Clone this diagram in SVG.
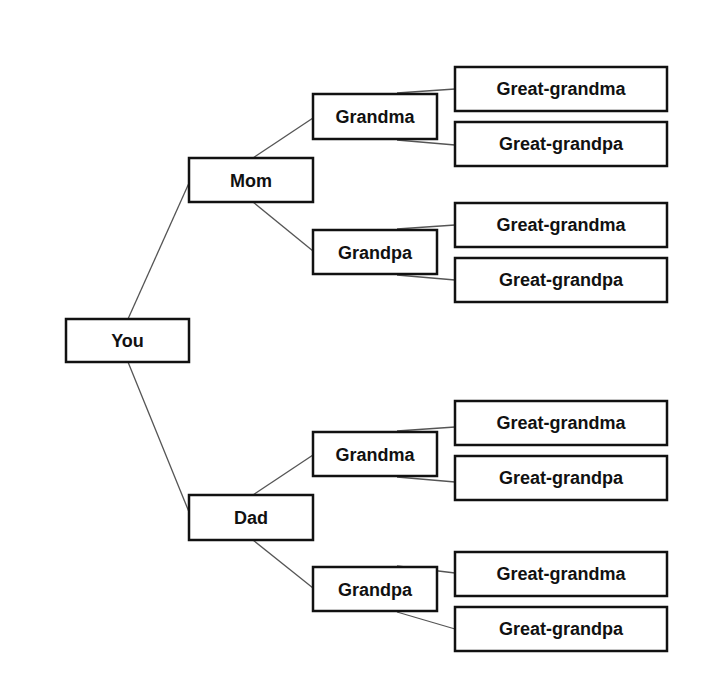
<svg xmlns="http://www.w3.org/2000/svg" width="720" height="673" viewBox="0 0 720 673">
<style>
rect{fill:#fff;stroke:#111;stroke-width:2.5}
text{font-family:"Liberation Sans",Arial,sans-serif;font-weight:bold;font-size:18px;fill:#111;text-anchor:middle;dominant-baseline:central}
#connectors line{stroke:#555;stroke-width:1.3}
</style>
<rect x="0" y="0" width="720" height="673" style="stroke:none"/>
<g id="connectors">
<line x1="128" y1="319" x2="189" y2="183"/>
<line x1="128" y1="362" x2="189" y2="512"/>
<line x1="253" y1="158" x2="313" y2="118"/>
<line x1="253" y1="202" x2="313" y2="251"/>
<line x1="253" y1="495" x2="313" y2="455"/>
<line x1="253" y1="540" x2="313" y2="588"/>
<line x1="397" y1="93" x2="455" y2="89"/>
<line x1="397" y1="140" x2="455" y2="145"/>
<line x1="397" y1="229" x2="455" y2="225"/>
<line x1="397" y1="275" x2="455" y2="280"/>
<line x1="397" y1="431" x2="455" y2="427"/>
<line x1="397" y1="477" x2="455" y2="482"/>
<line x1="397" y1="566" x2="455" y2="573"/>
<line x1="397" y1="612" x2="455" y2="629"/>
</g>
<g id="you"><rect x="66" y="319" width="123" height="43"/><text x="127.5" y="341">You</text></g>
<g id="mom"><rect x="189" y="158" width="124" height="44"/><text x="251" y="181">Mom</text></g>
<g id="dad"><rect x="189" y="495" width="124" height="45"/><text x="251" y="518">Dad</text></g>
<g id="mom-grandma"><rect x="313" y="94" width="124" height="45"/><text x="375" y="117">Grandma</text></g>
<g id="mom-grandpa"><rect x="313" y="230" width="124" height="44"/><text x="375" y="253">Grandpa</text></g>
<g id="dad-grandma"><rect x="313" y="432" width="124" height="44"/><text x="375" y="455">Grandma</text></g>
<g id="dad-grandpa"><rect x="313" y="567" width="124" height="44"/><text x="375" y="590">Grandpa</text></g>
<g id="gg1"><rect x="455" y="67" width="212" height="44"/><text x="561" y="89">Great-grandma</text></g>
<g id="gg2"><rect x="455" y="122" width="212" height="44"/><text x="561" y="144">Great-grandpa</text></g>
<g id="gg3"><rect x="455" y="203" width="212" height="44"/><text x="561" y="225">Great-grandma</text></g>
<g id="gg4"><rect x="455" y="258" width="212" height="44"/><text x="561" y="280">Great-grandpa</text></g>
<g id="gg5"><rect x="455" y="401" width="212" height="44"/><text x="561" y="423">Great-grandma</text></g>
<g id="gg6"><rect x="455" y="456" width="212" height="44"/><text x="561" y="478">Great-grandpa</text></g>
<g id="gg7"><rect x="455" y="552" width="212" height="44"/><text x="561" y="574">Great-grandma</text></g>
<g id="gg8"><rect x="455" y="607" width="212" height="44"/><text x="561" y="629">Great-grandpa</text></g>
</svg>
